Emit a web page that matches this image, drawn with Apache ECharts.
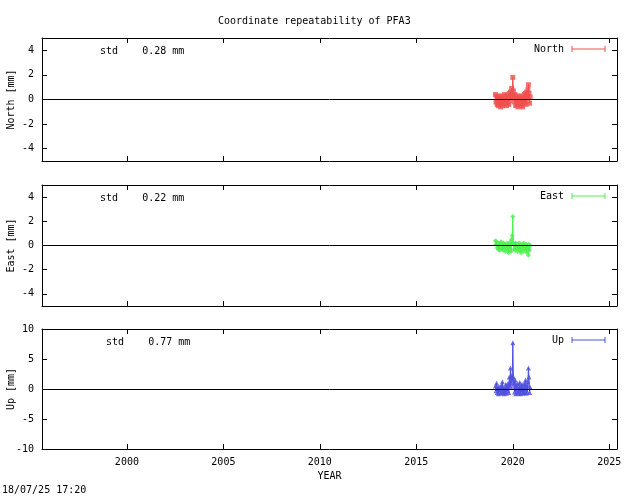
<!DOCTYPE html><html><head><meta charset="utf-8"><script src="https://cdn.jsdelivr.net/npm/echarts@6/dist/echarts.min.js"></script></head><body style="margin:0"><div id="c" style="width:640px;height:496px"></div><script>
const years=[2019.10,2019.13,2019.16,2019.19,2019.22,2019.25,2019.28,2019.31,2019.34,2019.37,2019.40,2019.43,2019.46,2019.49,2019.52,2019.55,2019.58,2019.61,2019.64,2019.67,2019.70,2019.73,2019.76,2019.79,2019.82,2019.85,2019.88,2019.91,2019.94,2019.97,2020.00,2020.03,2020.06,2020.09,2020.12,2020.15,2020.18,2020.21,2020.24,2020.27,2020.30,2020.33,2020.36,2020.39,2020.42,2020.45,2020.48,2020.51,2020.54,2020.57,2020.60,2020.63,2020.66,2020.69,2020.72,2020.75,2020.78,2020.81,2020.84,2020.87,2020.90];
const north=[0.4,-0.2,0.3,-0.4,0.1,-0.5,0.2,-0.3,0.0,-0.6,0.3,-0.4,0.1,-0.5,0.2,-0.3,0.4,-0.2,0.0,-0.5,0.3,-0.3,0.2,-0.4,0.5,-0.1,0.6,0.2,0.9,0.4,1.8,0.7,0.3,-0.2,0.4,-0.5,0.1,-0.4,0.2,-0.6,0.0,-0.3,0.3,-0.5,0.1,-0.4,0.2,-0.6,0.0,-0.3,0.4,-0.2,0.5,-0.4,0.6,0.1,0.8,1.2,0.5,-0.3,0.2];
const east=[0.4,0.1,0.3,-0.2,0.2,-0.3,0.1,-0.4,0.2,-0.1,0.3,-0.3,0.0,-0.4,0.2,-0.2,0.1,-0.5,0.0,-0.3,0.2,-0.4,0.1,-0.6,0.0,-0.3,0.3,-0.5,0.5,0.8,2.4,0.2,-0.3,0.1,-0.4,0.2,-0.2,0.1,-0.5,0.0,-0.3,0.2,-0.4,0.1,-0.6,0.0,-0.3,0.1,-0.5,0.2,-0.2,0.0,-0.4,0.1,-0.6,0.0,-0.3,-0.8,0.1,-0.4,0.0];
const up=[0.5,-0.3,1.0,-0.6,0.2,-0.8,0.4,-0.5,0.0,-0.7,0.6,-0.4,1.2,-0.6,0.3,-0.8,0.1,-0.5,0.8,-0.7,0.4,-0.3,1.0,-0.6,2.0,0.5,3.5,1.0,2.2,1.5,7.7,2.0,1.0,-0.5,1.5,-0.8,0.6,-0.4,0.9,-0.7,0.2,-0.6,1.1,-0.8,0.4,-0.5,0.8,-0.7,0.3,-0.6,0.9,-0.4,1.5,-0.7,0.6,-0.5,1.2,3.5,2.0,-0.6,0.3];
const xticks=[2000,2005,2010,2015,2020,2025];
const yticksNE=[-4,-2,0,2,4];
const yticksU=[-10,-5,0,5,10];
const stds=['0.28','0.22','0.77'];
const names=['North','East','Up'];
const labels=['North [mm]','East [mm]','Up [mm]'];
const colors=['#f05050','#50f050','#5050e0'];
const syms=['rect','diamond','triangle'];
const ymax=[5,5,10];
const tops=[38,185,329],hts=[123,121,120];
const F='DejaVu Sans Mono';
const grids=[],xs=[],ys=[],series=[],graphics=[];
[north,east,up].forEach((d,i)=>{
grids.push({left:42,right:23,top:tops[i],height:hts[i],containLabel:false,outerBoundsMode:'none'});
const yt=i==2?yticksU:yticksNE;
const ax={axisLine:{show:true,onZero:false,lineStyle:{color:'#000'}},splitLine:{show:false}};
const xt={inside:true,length:5,lineStyle:{color:'#000'},customValues:xticks};
const ytk={inside:true,length:5,lineStyle:{color:'#000'},customValues:yt};
xs.push({...ax,type:'value',gridIndex:i,min:1995.6,max:2025.4,axisTick:xt,axisLabel:{show:i==2,fontFamily:F,fontSize:10,color:'#000',customValues:xticks,formatter:v=>String(v)},name:i==2?'YEAR':'',nameLocation:'middle',nameGap:22,nameTextStyle:{fontFamily:F,fontSize:10,color:'#000'}});
xs.push({...ax,type:'value',gridIndex:i,position:'top',min:1995.6,max:2025.4,axisTick:xt,axisLabel:{show:false}});
ys.push({...ax,type:'value',gridIndex:i,min:-ymax[i],max:ymax[i],axisTick:ytk,axisLabel:{fontFamily:F,fontSize:10,color:'#000',customValues:yt,formatter:v=>String(v)}});
ys.push({...ax,type:'value',gridIndex:i,position:'right',min:-ymax[i],max:ymax[i],axisTick:ytk,axisLabel:{show:false}});
series.push({type:'scatter',xAxisIndex:2*i,yAxisIndex:2*i,data:years.map((y,k)=>[y,d[k]]),symbol:syms[i],symbolSize:5,itemStyle:{color:colors[i]},
markLine:{silent:true,symbol:'none',label:{show:false},lineStyle:{color:'#000',type:'solid',width:1},data:[{yAxis:0}]}});
series.push({type:'line',xAxisIndex:2*i,yAxisIndex:2*i,data:years.map((y,k)=>[y,d[k]]),showSymbol:false,lineStyle:{color:colors[i],width:1},areaStyle:{color:colors[i],opacity:0.6,origin:0},z:1});
graphics.push({type:'text',x:6,y:tops[i]+hts[i]/2,rotation:Math.PI/2,style:{text:labels[i],font:'10px '+F,fill:'#000',align:'center',verticalAlign:'top'}});
graphics.push({type:'text',left:i==2?106:100,top:tops[i]+8,style:{text:'std    '+stds[i]+' mm',font:'10px '+F,fill:'#000'}});
graphics.push({type:'text',right:76,top:tops[i]+6,style:{text:names[i],font:'10px '+F,fill:'#000',align:'right'}});
graphics.push({type:'line',shape:{x1:572,y1:tops[i]+11,x2:605,y2:tops[i]+11},style:{stroke:colors[i]}});
graphics.push({type:'line',shape:{x1:572,y1:tops[i]+8,x2:572,y2:tops[i]+14},style:{stroke:colors[i]}});
graphics.push({type:'line',shape:{x1:605,y1:tops[i]+8,x2:605,y2:tops[i]+14},style:{stroke:colors[i]}});
});
graphics.push({type:'text',left:218,top:16,style:{text:'Coordinate repeatability of PFA3',font:'10px '+F,fill:'#000'}});
graphics.push({type:'text',left:2,top:485,style:{text:'18/07/25 17:20',font:'10px '+F,fill:'#000'}});
const c=echarts.init(document.getElementById('c'));
c.setOption({animation:false,backgroundColor:'#fff',grid:grids,xAxis:xs,yAxis:ys,series,graphic:graphics});
</script></body></html>
